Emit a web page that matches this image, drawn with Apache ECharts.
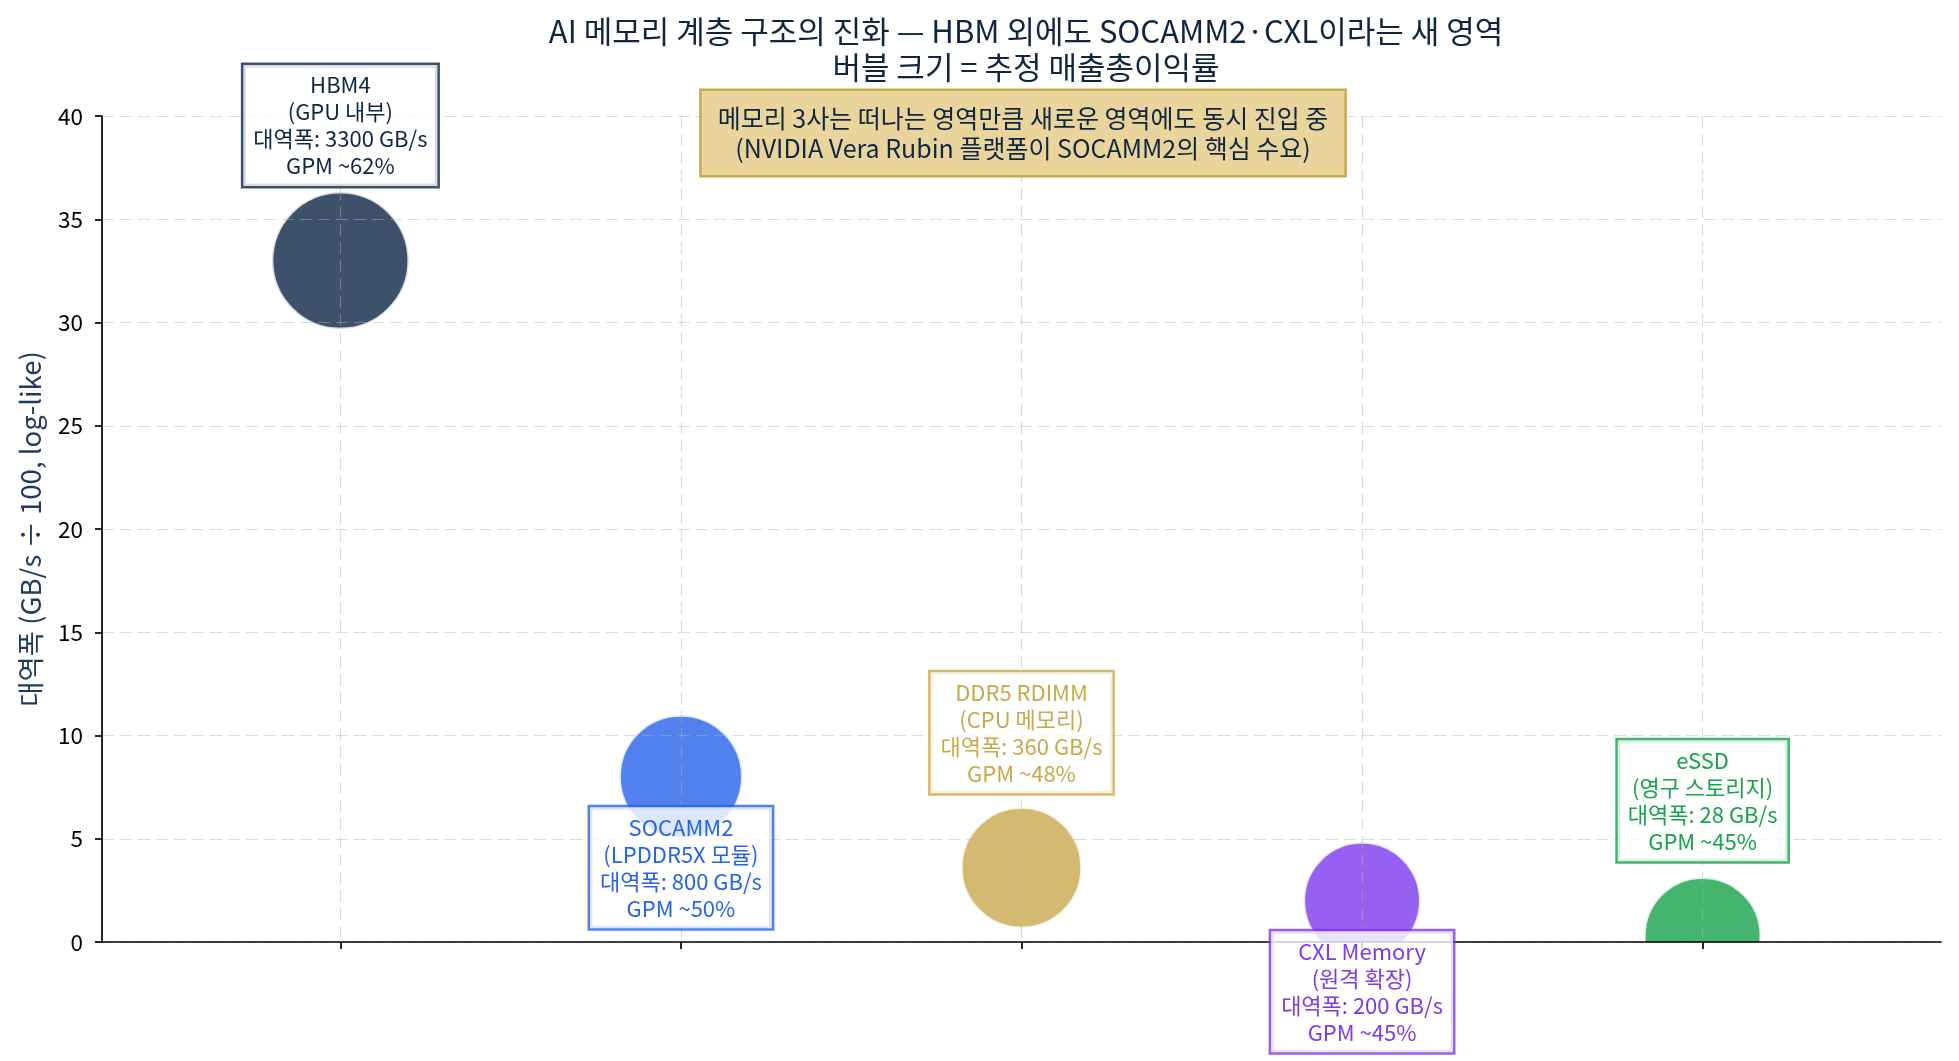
<!DOCTYPE html>
<html><head><meta charset="utf-8">
<script src="https://cdn.jsdelivr.net/npm/echarts@6/dist/echarts.min.js"></script>
<style>html,body{margin:0;padding:0;background:#fff}#c{width:1959px;height:1061px}</style>
</head><body><div id="c"></div>
<script>
// ---- data ----
const categories = ['HBM4', 'SOCAMM2', 'DDR5 RDIMM', 'CXL Memory', 'eSSD'];
const roles = ['GPU 내부', 'LPDDR5X 모듈', 'CPU 메모리', '원격 확장', '영구 스토리지'];
const bandwidthGBs = [3300, 800, 360, 200, 28];
const yValues = [33, 8, 3.6, 2, 0.3];
const gpmPct = [62, 50, 48, 45, 45];
const colors = ['#0e2645', '#2563eb', '#c9a84c', '#7c3aed', '#16a34a'];
const labelAbove = [true, false, true, false, true];
const xTickValues = [0, 1, 2, 3, 4];
const titleText = 'AI 메모리 계층 구조의 진화 — HBM 외에도 SOCAMM2·CXL이라는 새 영역\n버블 크기 = 추정 매출총이익률';
const noteText = '메모리 3사는 떠나는 영역만큼 새로운 영역에도 동시 진입 중\n(NVIDIA Vera Rubin 플랫폼이 SOCAMM2의 핵심 수요)';
const yAxisName = '대역폭 (GB/s ÷ 100, log-like)';

function rgba(hex, a) {
  const n = parseInt(hex.slice(1), 16);
  return 'rgba(' + ((n >> 16) & 255) + ',' + ((n >> 8) & 255) + ',' + (n & 255) + ',' + a + ')';
}
const FONT = '"Noto Sans CJK KR", "Noto Sans", sans-serif';
const gridLine = { show: true, lineStyle: { color: 'rgba(176,176,176,0.45)', type: [12, 6], width: 1.2 } };

const bubbleData = categories.map((c, i) => [i, yValues[i], gpmPct[i]]);

const labelData = categories.map((c, i) => ({
  name: c,
  value: [i, yValues[i]],
  label: {
    show: true,
    position: 'inside',
    offset: [0, labelAbove[i] ? -135 : 91],
    formatter: c + '\n(' + roles[i] + ')\n대역폭: ' + bandwidthGBs[i] + ' GB/s\nGPM ~' + gpmPct[i] + '%',
    color: colors[i],
    opacity: 1,
    fontSize: 22,
    lineHeight: 27,
    fontFamily: FONT,
    align: 'center',
    backgroundColor: 'rgba(255,255,255,0.8)',
    borderColor: rgba(colors[i], 0.8),
    borderWidth: 2.5,
    padding: [5, 10, 8, 10]
  }
}));

const chart = echarts.init(document.getElementById('c'), null, { renderer: 'canvas' });
chart.setOption({
  animation: false,
  backgroundColor: '#ffffff',
  textStyle: { fontFamily: FONT },
  title: {
    text: titleText,
    left: 1021, top: 8, textAlign: 'center',
    textStyle: { fontSize: 31, lineHeight: 36, color: '#0f2540', fontWeight: 'normal', fontFamily: FONT }
  },
  graphic: [{
    type: 'text', x: 1023, y: 91, z: 10,
    style: {
      text: noteText, align: 'center', verticalAlign: 'top',
      fontSize: 25, lineHeight: 30, fontFamily: FONT, fill: '#0f2540',
      backgroundColor: '#e9d59c', borderColor: '#c9a84c', borderWidth: 2.5,
      padding: [12, 16, 12, 16]
    }
  }],
  grid: { left: 102, right: 18, top: 116, bottom: 119, containLabel: false, outerBoundsMode: 'none' },
  xAxis: {
    type: 'value', min: -0.7, max: 4.7, z: 3,
    axisLine: { show: true, onZero: false, lineStyle: { color: '#000', width: 1.7 } },
    axisTick: { show: true, customValues: xTickValues, length: 7, inside: false, lineStyle: { color: '#000', width: 1.7 } },
    axisLabel: { show: false },
    splitLine: gridLine
  },
  yAxis: {
    type: 'value', min: 0, max: 40, interval: 5, z: 3,
    name: yAxisName, nameLocation: 'middle', nameGap: 58,
    nameTextStyle: { fontSize: 27.5, color: '#1e3a5f', fontFamily: FONT },
    axisLine: { show: true, onZero: false, lineStyle: { color: '#000', width: 1.7 } },
    axisTick: { show: true, length: 7, inside: false, lineStyle: { color: '#000', width: 1.7 } },
    axisLabel: { fontSize: 22.5, color: '#000', margin: 19, fontFamily: FONT },
    splitLine: gridLine
  },
  series: [
    {
      type: 'custom', name: 'bubbles', coordinateSystem: 'cartesian2d', clip: true, z: 2, silent: true,
      data: bubbleData,
      encode: { x: 0, y: 1 },
      renderItem: function (params, api) {
        const p = api.coord([api.value(0), api.value(1)]);
        const r = Math.sqrt(api.value(2)) * 8.7;
        const i = params.dataIndex;
        return {
          type: 'circle',
          shape: { cx: p[0], cy: p[1], r: r },
          style: { fill: rgba(colors[i], 0.8), stroke: 'rgba(255,255,255,0.8)', lineWidth: 3 }
        };
      }
    },
    { type: 'scatter', name: 'labels', data: labelData, z: 5, clip: false, silent: true,
      symbolSize: 1, itemStyle: { color: 'rgba(0,0,0,0)', opacity: 1 } }
  ]
});
</script></body></html>
